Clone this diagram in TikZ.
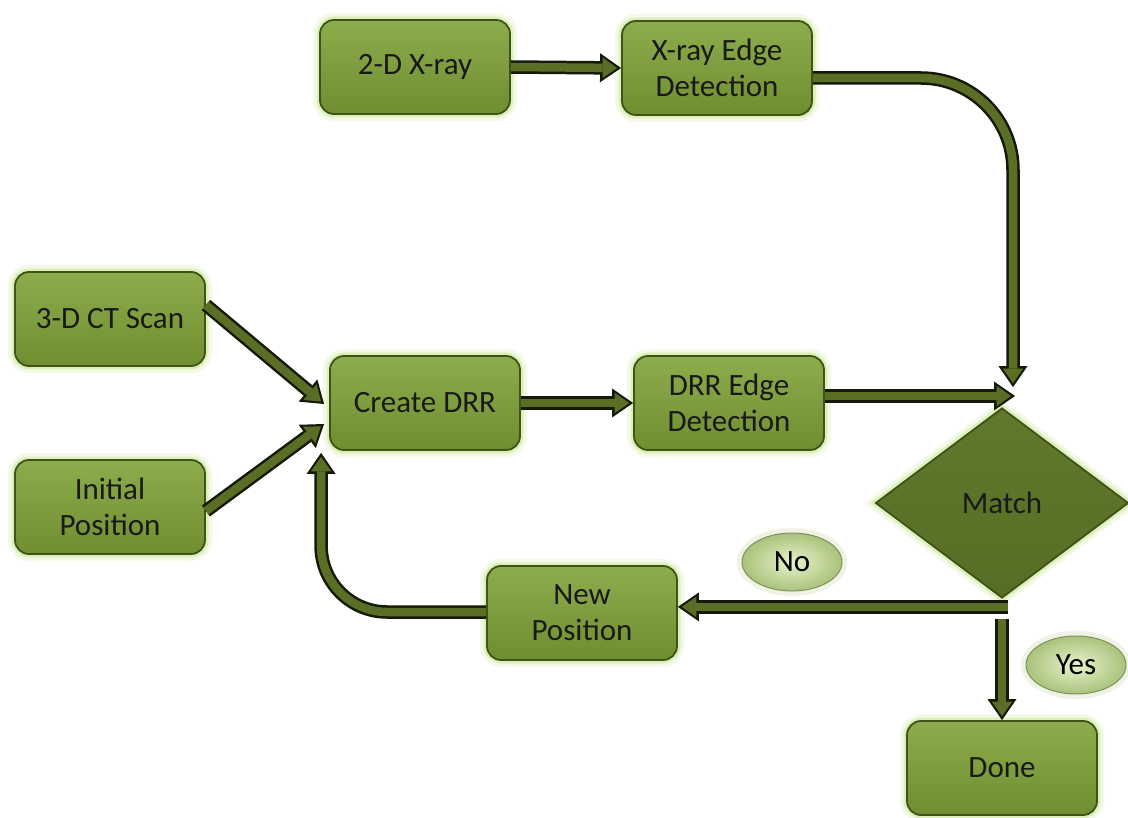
\documentclass[tikz,border=0pt]{standalone}
\usepackage{fontspec}
\setmainfont{Carlito}
\usetikzlibrary{shapes.geometric,arrows.meta,calc}
\definecolor{boxtop}{HTML}{8DAC4C}
\definecolor{boxbot}{HTML}{6F8E30}
\definecolor{boxborder}{HTML}{3F5217}
\definecolor{glow}{HTML}{CFE9A0}
\definecolor{diafill}{HTML}{5B7527}
\definecolor{diaborder}{HTML}{3E5216}
\definecolor{arrfill}{HTML}{5A6F25}
\definecolor{arrline}{HTML}{151A08}
\definecolor{ellin}{HTML}{E8F3CC}
\definecolor{ellout}{HTML}{A9C27B}
\tikzset{
  stepbox/.style={rectangle, rounded corners=14pt, minimum width=190pt, minimum height=94pt,
    draw=boxborder, line width=1.8pt, top color=boxtop, bottom color=boxbot,
    align=center, text=black!90,
    font=\fontsize{31}{36}\selectfont,
    preaction={draw=glow, line width=14pt, draw opacity=0.25},
    preaction={draw=glow, line width=7pt, draw opacity=0.6}},
  decision/.style={diamond, minimum width=253pt, minimum height=190pt, inner sep=0pt,
    draw=diaborder, line width=1.8pt, top color=diafill!97!white, bottom color=diafill!94!black,
    font=\fontsize{31}{36}\selectfont, text=black!90,
    preaction={draw=glow, line width=14pt, draw opacity=0.25},
    preaction={draw=glow, line width=7pt, draw opacity=0.6}},
  tag/.style={ellipse, minimum width=100pt, minimum height=58pt, inner sep=0pt,
    inner color=ellin, outer color=ellout, draw=ellout!75!black, line width=1pt,
    font=\fontsize{31}{36}\selectfont, text=black,
    preaction={draw=ellout, line width=10pt, draw opacity=0.2}},
  arrout/.style={line width=13.5pt, draw=arrline,
    -{Triangle[length=21pt,width=29pt,line width=0pt]}},
  arrin/.style={line width=8.5pt, draw=arrfill, shorten >=4pt,
    -{Triangle[length=14.5pt,width=20.5pt,line width=0pt]}},
}
\newcommand{\blockarrow}[2][]{%
  \draw[arrout,#1] #2;
  \draw[arrin,#1] #2;}
\begin{document}
\begin{tikzpicture}[x=1pt,y=-1pt]
\useasboundingbox (0,0) rectangle (1128,818);

% nodes
\node[stepbox] (xray) at (415,67) {2-D X-ray};
\node[stepbox] (xedge) at (717,68) {X-ray Edge\\Detection};
\node[stepbox] (ct) at (110,319) {3-D CT Scan};
\node[stepbox] (init) at (110,507) {Initial\\Position};
\node[stepbox] (drr) at (425,403) {Create DRR};
\node[stepbox] (dedge) at (729,403) {DRR Edge\\Detection};
\node[decision] (match) at (1002,503) {Match};
\node[stepbox] (newpos) at (582,613) {New\\Position};
\node[stepbox] (done) at (1002,768) {Done};
\node[tag] (no) at (792,562) {No};
\node[tag] (yes) at (1076,665) {Yes};

\coordinate (mno) at ([yshift=-8pt]match.south);
\coordinate (myes) at ([yshift=-20pt]match.south);

% connectors
\blockarrow{(xray.east) -- (xedge.west)}
\blockarrow[rounded corners=92pt]{([yshift=-10pt]xedge.east) -| ([xshift=11pt,yshift=20pt]match.north)}
\blockarrow{([yshift=14pt]ct.east) -- ([xshift=-5pt,yshift=-1pt]drr.west)}
\blockarrow{([yshift=-4pt]init.east) -- ([xshift=-5pt,yshift=-21pt]drr.west)}
\blockarrow{(drr.east) -- (dedge.west)}
\blockarrow{([yshift=7pt]dedge.east) -- ([xshift=13pt,yshift=7pt]dedge.east -| match.north)}
\blockarrow[rounded corners=66pt]{([yshift=1pt]newpos.west) -| ([xshift=-8pt,yshift=-2pt]drr.south west)}
\blockarrow{([xshift=6pt]mno) -- (mno -| newpos.east)}
\blockarrow{(myes) -- (done.north)}
\end{tikzpicture}
\end{document}
